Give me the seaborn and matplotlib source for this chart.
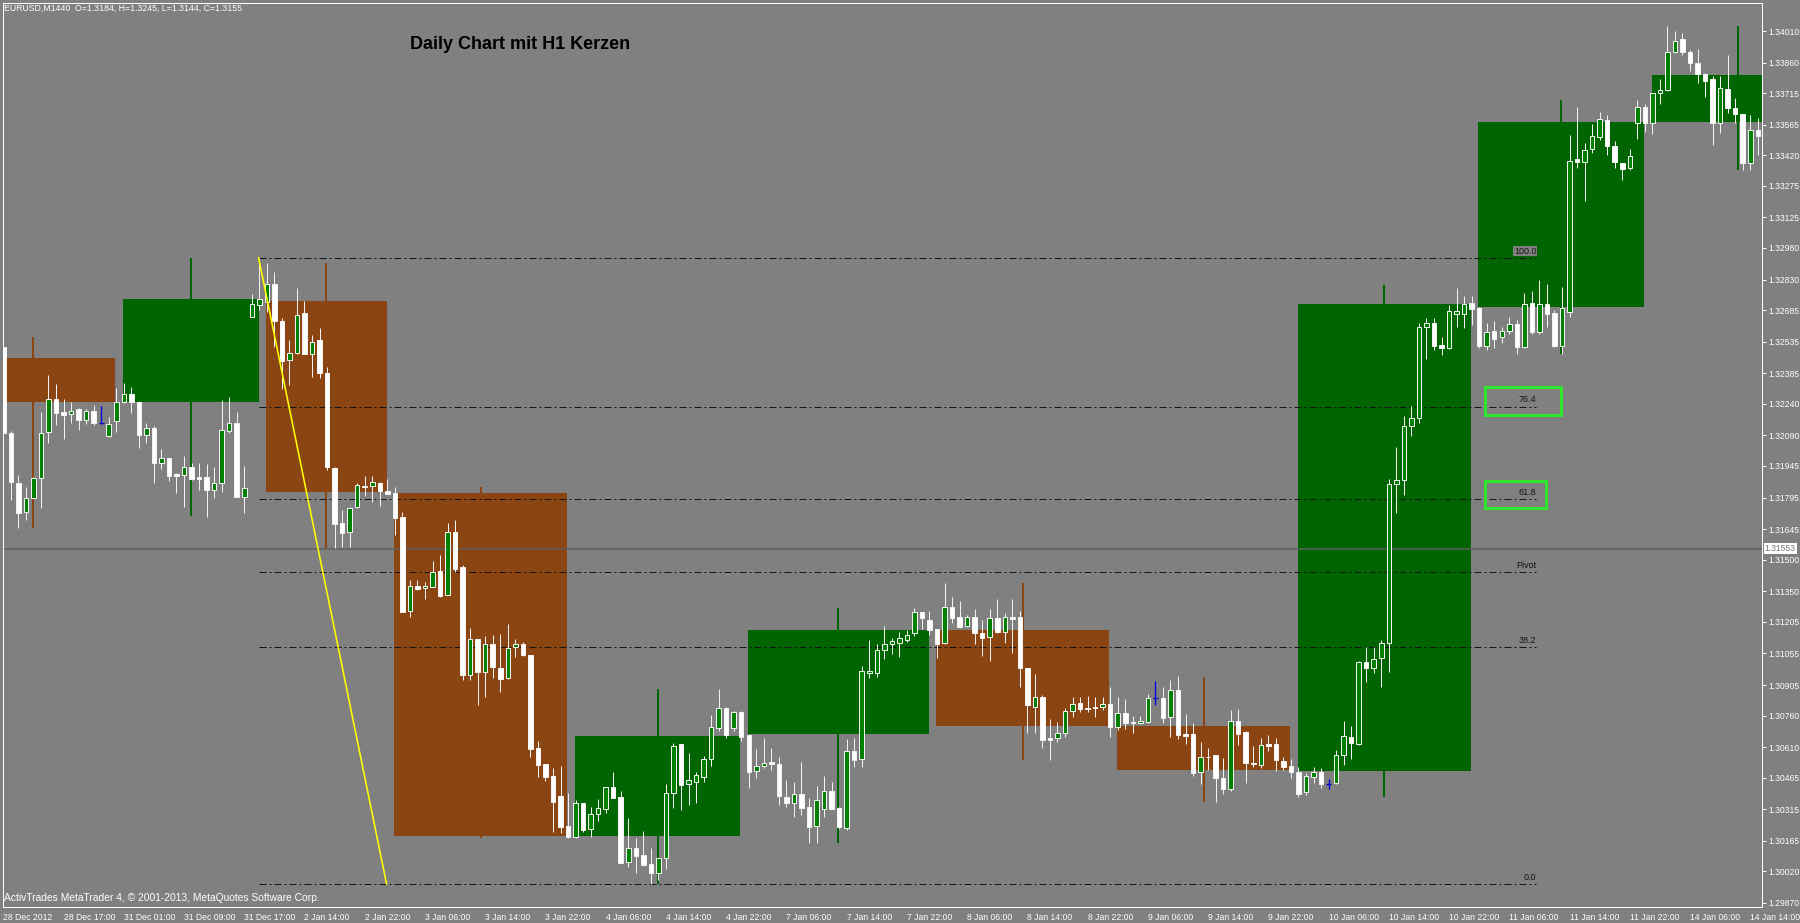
import numpy as np
import matplotlib
matplotlib.use("Agg")
import matplotlib.pyplot as plt
import matplotlib.transforms as mtransforms
from matplotlib.patches import Rectangle
import seaborn as sns

# Hourly candles, EURUSD H1, 28 Dec 2012 - 14 Jan 2013
h1_open = [
    1.32511, 1.32100, 1.31866, 1.31728, 1.31791, 1.31886, 1.32105, 1.32261, 1.32203, 1.32192,
    1.32214, 1.32163, 1.32206, 1.32150, 1.32087, 1.32158, 1.32247, 1.32285, 1.32247, 1.32092,
    1.32124, 1.31960, 1.31984, 1.31905, 1.31900, 1.31938, 1.31891, 1.31891, 1.31831, 1.31863,
    1.32112, 1.32150, 1.31796, 1.32654, 1.32709, 1.32725, 1.32809, 1.32635, 1.32448, 1.32483,
    1.32670, 1.32476, 1.32543, 1.32385, 1.31934, 1.31673, 1.31630, 1.31751, 1.31851, 1.31851,
    1.31866, 1.31826, 1.31815, 1.31701, 1.31256, 1.31375, 1.31364, 1.31372, 1.31446, 1.31332,
    1.31633, 1.31464, 1.30952, 1.31123, 1.30968, 1.31102, 1.30984, 1.30940, 1.31087, 1.31102,
    1.31047, 1.30604, 1.30530, 1.30473, 1.30378, 1.30237, 1.30182, 1.30346, 1.30220, 1.30291,
    1.30318, 1.30419, 1.30372, 1.30066, 1.30131, 1.30098, 1.30055, 1.30011, 1.30082, 1.30391,
    1.30623, 1.30433, 1.30446, 1.30470, 1.30552, 1.30699, 1.30797, 1.30699, 1.30775, 1.30667,
    1.30497, 1.30521, 1.30538, 1.30528, 1.30374, 1.30343, 1.30387, 1.30327, 1.30235, 1.30315,
    1.30402, 1.30320, 1.30225, 1.30592, 1.30552, 1.30960, 1.30963, 1.31071, 1.31098, 1.31106,
    1.31118, 1.31150, 1.31253, 1.31214, 1.31169, 1.31106, 1.31274, 1.31229, 1.31185, 1.31229,
    1.31150, 1.31131, 1.31221, 1.31158, 1.31229, 1.31226, 1.30984, 1.30802, 1.30846, 1.30652,
    1.30652, 1.30678, 1.30781, 1.30818, 1.30797, 1.30802, 1.30799, 1.30813, 1.30707, 1.30770,
    1.30731, 1.30723, 1.30731, 1.30842, 1.30845, 1.30751, 1.30881, 1.30672, 1.30672, 1.30490,
    1.30561, 1.30572, 1.30465, 1.30411, 1.30735, 1.30683, 1.30536, 1.30525, 1.30624, 1.30623,
    1.30546, 1.30520, 1.30493, 1.30398, 1.30470, 1.30493, 1.30435, 1.30438, 1.30572, 1.30659,
    1.30624, 1.31016, 1.30984, 1.31031, 1.31106, 1.31860, 1.31876, 1.32134, 1.32173, 1.32606,
    1.32623, 1.32517, 1.32504, 1.32665, 1.32665, 1.32719, 1.32695, 1.32513, 1.32584, 1.32555,
    1.32588, 1.32617, 1.32509, 1.32719, 1.32583, 1.32716, 1.32670, 1.32513, 1.32677, 1.33401,
    1.33390, 1.33450, 1.33508, 1.33587, 1.33465, 1.33385, 1.33358, 1.33575, 1.33648, 1.33575,
    1.33714, 1.33730, 1.33909, 1.33972, 1.33912, 1.33857, 1.33806, 1.33782, 1.33575, 1.33733,
    1.33643, 1.33616, 1.33382, 1.33540,
]
h1_high = [
    1.32519, 1.32110, 1.31902, 1.31844, 1.31891, 1.32202, 1.32377, 1.32334, 1.32261, 1.32250,
    1.32219, 1.32214, 1.32234, 1.32232, 1.32179, 1.32314, 1.32337, 1.32321, 1.32247, 1.32147,
    1.32135, 1.32024, 1.31984, 1.31913, 1.31992, 1.31957, 1.31960, 1.31954, 1.31941, 1.32258,
    1.32274, 1.32203, 1.31945, 1.32761, 1.32931, 1.32907, 1.32864, 1.32646, 1.32543, 1.32788,
    1.32728, 1.32567, 1.32598, 1.32413, 1.31941, 1.31736, 1.31749, 1.31862, 1.31897, 1.31897,
    1.31870, 1.31882, 1.31846, 1.31728, 1.31403, 1.31403, 1.31395, 1.31494, 1.31522, 1.31675,
    1.31688, 1.31475, 1.31174, 1.31123, 1.31137, 1.31142, 1.31147, 1.31194, 1.31122, 1.31107,
    1.31047, 1.30640, 1.30530, 1.30509, 1.30520, 1.30391, 1.30359, 1.30346, 1.30324, 1.30364,
    1.30419, 1.30493, 1.30403, 1.30272, 1.30177, 1.30213, 1.30130, 1.30082, 1.30435, 1.30628,
    1.30623, 1.30584, 1.30493, 1.30568, 1.30762, 1.30884, 1.30802, 1.30781, 1.30781, 1.30667,
    1.30600, 1.30652, 1.30604, 1.30562, 1.30454, 1.30446, 1.30541, 1.30367, 1.30425, 1.30474,
    1.30446, 1.30325, 1.30647, 1.30652, 1.30995, 1.31118, 1.31098, 1.31186, 1.31127, 1.31155,
    1.31166, 1.31269, 1.31253, 1.31258, 1.31169, 1.31388, 1.31321, 1.31304, 1.31237, 1.31264,
    1.31214, 1.31264, 1.31312, 1.31248, 1.31312, 1.31258, 1.30984, 1.30957, 1.30857, 1.30742,
    1.30731, 1.30794, 1.30850, 1.30850, 1.30853, 1.30850, 1.30850, 1.30897, 1.30850, 1.30837,
    1.30758, 1.30758, 1.30862, 1.30924, 1.30897, 1.30929, 1.30948, 1.30767, 1.30723, 1.30633,
    1.30604, 1.30572, 1.30557, 1.30786, 1.30790, 1.30688, 1.30615, 1.30652, 1.30667, 1.30652,
    1.30564, 1.30552, 1.30517, 1.30488, 1.30517, 1.30509, 1.30457, 1.30596, 1.30735, 1.30710,
    1.31021, 1.31084, 1.31084, 1.31118, 1.31885, 1.32033, 1.32182, 1.32232, 1.32623, 1.32648,
    1.32648, 1.32555, 1.32707, 1.32792, 1.32750, 1.32753, 1.32699, 1.32623, 1.32631, 1.32606,
    1.32652, 1.32639, 1.32767, 1.32775, 1.32826, 1.32809, 1.32685, 1.32796, 1.33516, 1.33651,
    1.33477, 1.33568, 1.33627, 1.33611, 1.33489, 1.33385, 1.33450, 1.33682, 1.33663, 1.33714,
    1.33782, 1.34034, 1.34011, 1.33999, 1.33920, 1.33923, 1.33812, 1.33796, 1.33796, 1.33896,
    1.33693, 1.33616, 1.33611, 1.33595,
]
h1_low = [
    1.32068, 1.31783, 1.31649, 1.31688, 1.31791, 1.31744, 1.32055, 1.32139, 1.32071, 1.32150,
    1.32116, 1.32144, 1.32139, 1.32143, 1.32084, 1.32108, 1.32242, 1.32198, 1.32029, 1.32055,
    1.31865, 1.31929, 1.31875, 1.31815, 1.31751, 1.31878, 1.31831, 1.31704, 1.31791, 1.31820,
    1.32100, 1.31799, 1.31720, 1.32651, 1.32685, 1.32677, 1.32511, 1.32309, 1.32329, 1.32476,
    1.32475, 1.32366, 1.32361, 1.31926, 1.31554, 1.31562, 1.31562, 1.31744, 1.31802, 1.31775,
    1.31755, 1.31812, 1.31617, 1.31251, 1.31229, 1.31356, 1.31312, 1.31372, 1.31324, 1.31332,
    1.31443, 1.30929, 1.30929, 1.30810, 1.30849, 1.30937, 1.30873, 1.30932, 1.31036, 1.31043,
    1.30564, 1.30469, 1.30450, 1.30208, 1.30204, 1.30177, 1.30177, 1.30208, 1.30185, 1.30261,
    1.30299, 1.30367, 1.30058, 1.30042, 1.30011, 1.30045, 1.29960, 1.29979, 1.30030, 1.30319,
    1.30311, 1.30335, 1.30343, 1.30446, 1.30520, 1.30688, 1.30652, 1.30688, 1.30640, 1.30414,
    1.30465, 1.30510, 1.30501, 1.30335, 1.30327, 1.30277, 1.30288, 1.30156, 1.30153, 1.30280,
    1.30315, 1.30220, 1.30217, 1.30514, 1.30517, 1.30937, 1.30944, 1.31027, 1.31052, 1.31040,
    1.31110, 1.31137, 1.31169, 1.31142, 1.31031, 1.31102, 1.31198, 1.31174, 1.31182, 1.31102,
    1.31043, 1.31020, 1.31150, 1.31106, 1.31057, 1.30897, 1.30676, 1.30676, 1.30607, 1.30549,
    1.30636, 1.30660, 1.30754, 1.30778, 1.30778, 1.30754, 1.30786, 1.30657, 1.30691, 1.30694,
    1.30678, 1.30720, 1.30726, 1.30810, 1.30726, 1.30660, 1.30647, 1.30624, 1.30473, 1.30435,
    1.30501, 1.30351, 1.30387, 1.30403, 1.30620, 1.30441, 1.30517, 1.30512, 1.30593, 1.30498,
    1.30501, 1.30462, 1.30372, 1.30383, 1.30441, 1.30414, 1.30411, 1.30435, 1.30525, 1.30553,
    1.30620, 1.30921, 1.30960, 1.30897, 1.30969, 1.31724, 1.31809, 1.32085, 1.32148, 1.32453,
    1.32495, 1.32470, 1.32501, 1.32606, 1.32600, 1.32614, 1.32504, 1.32495, 1.32504, 1.32529,
    1.32572, 1.32478, 1.32504, 1.32572, 1.32572, 1.32606, 1.32509, 1.32476, 1.32654, 1.33358,
    1.33204, 1.33429, 1.33492, 1.33421, 1.33358, 1.33303, 1.33350, 1.33496, 1.33532, 1.33520,
    1.33663, 1.33727, 1.33904, 1.33896, 1.33822, 1.33765, 1.33698, 1.33469, 1.33524, 1.33619,
    1.33572, 1.33350, 1.33350, 1.33421,
]
h1_close = [
    1.32100, 1.31870, 1.31723, 1.31794, 1.31886, 1.32103, 1.32261, 1.32195, 1.32187, 1.32207,
    1.32163, 1.32207, 1.32147, 1.32150, 1.32143, 1.32247, 1.32285, 1.32247, 1.32092, 1.32124,
    1.31960, 1.31984, 1.31897, 1.31897, 1.31938, 1.31881, 1.31881, 1.31831, 1.31866, 1.32116,
    1.32150, 1.31799, 1.31842, 1.32712, 1.32736, 1.32809, 1.32635, 1.32445, 1.32480, 1.32662,
    1.32475, 1.32532, 1.32385, 1.31941, 1.31669, 1.31628, 1.31747, 1.31854, 1.31843, 1.31867,
    1.31827, 1.31812, 1.31696, 1.31253, 1.31376, 1.31362, 1.31375, 1.31443, 1.31329, 1.31633,
    1.31454, 1.30952, 1.31123, 1.30968, 1.31098, 1.30992, 1.30933, 1.31082, 1.31102, 1.31047,
    1.30600, 1.30525, 1.30469, 1.30348, 1.30232, 1.30182, 1.30346, 1.30216, 1.30292, 1.30319,
    1.30419, 1.30367, 1.30061, 1.30131, 1.30094, 1.30050, 1.30014, 1.30082, 1.30391, 1.30615,
    1.30430, 1.30454, 1.30478, 1.30552, 1.30704, 1.30797, 1.30667, 1.30775, 1.30659, 1.30493,
    1.30521, 1.30533, 1.30528, 1.30378, 1.30343, 1.30387, 1.30322, 1.30229, 1.30359, 1.30402,
    1.30315, 1.30230, 1.30592, 1.30549, 1.30973, 1.30973, 1.31071, 1.31098, 1.31114, 1.31127,
    1.31142, 1.31253, 1.31224, 1.31166, 1.31102, 1.31274, 1.31224, 1.31182, 1.31229, 1.31150,
    1.31129, 1.31221, 1.31158, 1.31229, 1.31218, 1.30984, 1.30810, 1.30846, 1.30644, 1.30644,
    1.30676, 1.30783, 1.30815, 1.30791, 1.30791, 1.30794, 1.30815, 1.30707, 1.30770, 1.30723,
    1.30723, 1.30734, 1.30842, 1.30842, 1.30747, 1.30881, 1.30667, 1.30664, 1.30488, 1.30561,
    1.30564, 1.30465, 1.30410, 1.30734, 1.30672, 1.30536, 1.30528, 1.30620, 1.30615, 1.30549,
    1.30517, 1.30493, 1.30387, 1.30473, 1.30493, 1.30433, 1.30435, 1.30575, 1.30662, 1.30631,
    1.31016, 1.30984, 1.31028, 1.31106, 1.31860, 1.31876, 1.32134, 1.32173, 1.32606, 1.32623,
    1.32516, 1.32504, 1.32682, 1.32679, 1.32716, 1.32691, 1.32513, 1.32580, 1.32550, 1.32584,
    1.32619, 1.32509, 1.32712, 1.32580, 1.32716, 1.32665, 1.32513, 1.32693, 1.33394, 1.33390,
    1.33445, 1.33513, 1.33592, 1.33465, 1.33387, 1.33355, 1.33418, 1.33648, 1.33575, 1.33714,
    1.33730, 1.33909, 1.33964, 1.33912, 1.33860, 1.33806, 1.33774, 1.33575, 1.33738, 1.33643,
    1.33616, 1.33382, 1.33540, 1.33511,
]

# Daily (D1) candles drawn as boxes behind the hourly bars
day_first_bar = [-8, 15, 34, 51, 75, 98, 123, 147, 171, 195, 218]
day_last_bar = [14, 33, 50, 74, 97, 122, 146, 170, 194, 217, 241]
d1_open = [1.32456, 1.32250, 1.32728, 1.31815, 1.30188, 1.30671, 1.31167, 1.30710, 1.30496, 1.32701, 1.33577]
d1_high = [1.32556, 1.32934, 1.32907, 1.31846, 1.30884, 1.31269, 1.31388, 1.30944, 1.32804, 1.33682, 1.34034]
d1_low = [1.31649, 1.31707, 1.31554, 1.30178, 1.29960, 1.30153, 1.30549, 1.30351, 1.30372, 1.32476, 1.33350]
d1_close = [1.32250, 1.32736, 1.31820, 1.30188, 1.30663, 1.31166, 1.30710, 1.30501, 1.32712, 1.33577, 1.33800]

# Fibonacci retracement (anchors: high of 31 Dec, low of 4 Jan)
fib_anchor_bar = [33.9, 50.9]
fib_anchor_price = [1.32934, 1.29960]
fib_end_bar = 203.6
fib_labels = ["0.0", "38.2", "Pivot", "61.8", "76.4", "100.0"]
fib_prices = [1.29960, 1.31085, 1.31442, 1.31787, 1.32227, 1.32934]

# highlighted fib labels (green frames)
frame_bars = [(196.8, 206.9), (196.8, 204.9)]
frame_prices = [(1.32187, 1.32320), (1.31745, 1.31875)]

current_price = 1.31553

x_tick_bars = list(range(0, 233, 8))
x_tick_labels = [
    "28 Dec 2012", "28 Dec 17:00", "31 Dec 01:00", "31 Dec 09:00", "31 Dec 17:00",
    "2 Jan 14:00", "2 Jan 22:00", "3 Jan 06:00", "3 Jan 14:00", "3 Jan 22:00",
    "4 Jan 06:00", "4 Jan 14:00", "4 Jan 22:00", "7 Jan 06:00", "7 Jan 14:00",
    "7 Jan 22:00", "8 Jan 06:00", "8 Jan 14:00", "8 Jan 22:00", "9 Jan 06:00",
    "9 Jan 14:00", "9 Jan 22:00", "10 Jan 06:00", "10 Jan 14:00", "10 Jan 22:00",
    "11 Jan 06:00", "11 Jan 14:00", "11 Jan 22:00", "14 Jan 06:00", "14 Jan 14:00",
]
y_ticks = [
    1.34010, 1.33860, 1.33715, 1.33565, 1.33420, 1.33275, 1.33125, 1.32980, 1.32830, 1.32685,
    1.32535, 1.32385, 1.32240, 1.32090, 1.31945, 1.31795, 1.31645, 1.31500, 1.31350, 1.31205,
    1.31055, 1.30905, 1.30760, 1.30610, 1.30465, 1.30315, 1.30165, 1.30020, 1.29870,
]

BG = "#808080"
sns.set_theme(style="dark", rc={
    "axes.facecolor": BG, "figure.facecolor": BG,
    "axes.edgecolor": "white", "xtick.color": "white", "ytick.color": "white",
})
plt.rcParams["font.family"] = ["Liberation Sans", "DejaVu Sans"]

fig = plt.figure(figsize=(18, 9.23), dpi=100)
ax = fig.add_axes([3 / 1800, 16 / 923, 1759 / 1800, 904 / 923])
ax.set_facecolor(BG)

px = 0.72  # one pixel in points

# daily boxes + wicks
for i in range(len(d1_open)):
    x0 = day_first_bar[i] + 0.9
    x1 = day_last_bar[i] + 0.9
    bull = d1_close[i] >= d1_open[i]
    col = "#006400" if bull else "#8b4513"
    lo, hi = min(d1_open[i], d1_close[i]), max(d1_open[i], d1_close[i])
    ax.add_patch(Rectangle((x0, lo), x1 - x0, hi - lo, facecolor=col, edgecolor="none", zorder=1))
    xm = (x0 + x1) / 2
    ax.vlines(xm, d1_low[i], d1_high[i], colors=col, lw=2 * px, zorder=1.2)

# fibonacci levels
for lvl, p in zip(fib_labels, fib_prices):
    ax.plot([fib_anchor_bar[0], fib_end_bar], [p, p], color="#141414", lw=px,
            ls=(0, (7, 3, 2, 3)), zorder=2)
    ax.annotate(lvl, (fib_end_bar, p), xytext=(0, 1.5), textcoords="offset points",
                ha="right", va="bottom", fontsize=6.5, color="#141414", zorder=6,
                bbox=dict(facecolor=BG if lvl == "100.0" else "none", edgecolor="none", pad=0.4))

# current price line
ax.axhline(current_price, color="#5e5e5e", lw=1.5 * px, zorder=1.8)

# hourly candles
o = np.array(h1_open)
h = np.array(h1_high)
l = np.array(h1_low)
c = np.array(h1_close)
x = np.arange(len(o))
doji = np.isclose(o, c, atol=1e-6)
bull = (c > o) & ~doji
bear = (c < o) & ~doji

ax.vlines(x[~doji], l[~doji], h[~doji], colors="#f2f2f2", lw=px, zorder=3)
body_lo = np.minimum(o, c)
body_h = np.maximum(np.abs(c - o), 0.00002)
ax.bar(x[bull], body_h[bull], bottom=body_lo[bull], width=0.6, color="#008000",
       edgecolor="#f2f2f2", linewidth=px, zorder=4)
ax.bar(x[bear], body_h[bear], bottom=body_lo[bear], width=0.6, color="white",
       edgecolor="#f2f2f2", linewidth=px, zorder=4)
ax.vlines(x[doji], l[doji], h[doji], colors="#0000e0", lw=1.3 * px, zorder=4)
ax.hlines(o[doji], x[doji] - 0.35, x[doji] + 0.35, colors="#0000e0", lw=1.3 * px, zorder=4)

# fibo trend line
sns.lineplot(x=fib_anchor_bar, y=fib_anchor_price, ax=ax, color="#ffff00", lw=1.6 * px,
             zorder=5, legend=False)

# green frames around 76.4 and 61.8
for (bx0, bx1), (py0, py1) in zip(frame_bars, frame_prices):
    ax.add_patch(Rectangle((bx0, py0), bx1 - bx0, py1 - py0, facecolor="none",
                           edgecolor="#2ee62e", lw=3 * px, zorder=6))

ax.set_xlim(-0.04, 233.56)
ax.set_ylim(1.29851, 1.34143)

ax.set_xticks(x_tick_bars)
ax.set_xticklabels(x_tick_labels, fontsize=6.2, color="white", ha="left")
ax.yaxis.tick_right()
ax.set_yticks(y_ticks)
ax.set_yticklabels([f"{v:.5f}" for v in y_ticks], fontsize=6.2, color="white")
ax.tick_params(axis="x", direction="out", length=3, width=px, pad=1.5, colors="white")
ax.tick_params(axis="y", direction="out", length=3, width=px, pad=1.5, colors="white")
ax.set_xlabel("")
ax.set_ylabel("")
ax.grid(False)
for s in ax.spines.values():
    s.set_color("white")
    s.set_linewidth(px)

# current price tag on the price scale
trans = mtransforms.blended_transform_factory(ax.transAxes, ax.transData)
ax.text(1.0015, current_price, "1.31553", transform=trans, fontsize=6.2, color="#7a7a7a",
        ha="left", va="center", zorder=7,
        bbox=dict(facecolor="white", edgecolor="none", pad=0.8), clip_on=False)

ax.text(0.0008, 0.9945, "EURUSD,M1440  O=1.3184, H=1.3245, L=1.3144, C=1.3155",
        transform=ax.transAxes, fontsize=6.3, color="white", ha="left", va="center")
ax.text(0.294, 0.9546, "Daily Chart mit H1 Kerzen", transform=ax.transAxes,
        fontsize=13, fontweight="bold", color="black", ha="center", va="center")
ax.text(0.0008, 0.0105, "ActivTrades MetaTrader 4, \u00a9 2001-2013, MetaQuotes Software Corp.",
        transform=ax.transAxes, fontsize=7.4, color="white", ha="left", va="center")

fig.savefig("out.png", dpi=100, facecolor=BG)
